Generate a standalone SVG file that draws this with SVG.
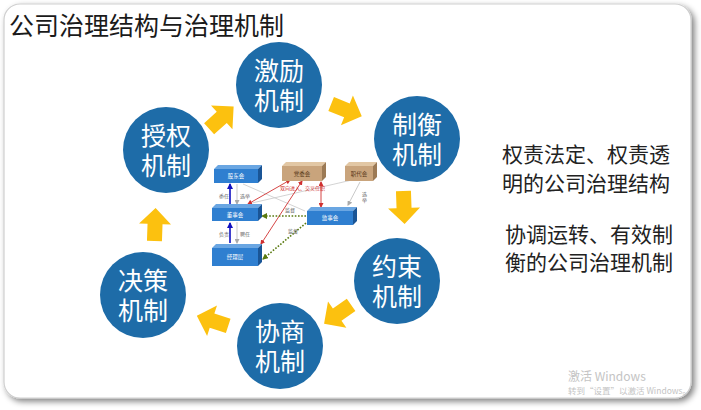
<svg xmlns="http://www.w3.org/2000/svg" width="701" height="410" viewBox="0 0 701 410">
<defs>
<style>
.cjk{font-family:"Noto Sans CJK SC","Noto Sans",sans-serif}
.ct{font-size:25px;fill:#fff;text-anchor:middle}
.circ{fill:#1e6ca8}
.rt{font-size:21px;fill:#222}
.tiny{font-size:5px;fill:#666}
.bx{font-size:5.5px;fill:#fff;text-anchor:middle}
.bxt{font-size:5.5px;fill:#5a3a1a;text-anchor:middle}
.yarr{fill:#fcc10f}
</style>
<filter id="sh" x="-5%" y="-5%" width="110%" height="110%">
<feGaussianBlur in="SourceAlpha" stdDeviation="3"/>
<feOffset dx="3" dy="3"/>
<feComponentTransfer><feFuncA type="linear" slope="0.5"/></feComponentTransfer>
<feMerge><feMergeNode/><feMergeNode in="SourceGraphic"/></feMerge>
</filter>
<path id="ya" d="M-16,-7.5 L1,-7.5 L1,-16 L17,0 L1,16 L1,7.5 L-16,7.5 Z"/>
<marker id="mb" markerWidth="6" markerHeight="6" refX="5" refY="3" orient="auto" markerUnits="userSpaceOnUse"><path d="M0,0 L6,3 L0,6 Z" fill="#1010c0"/></marker>
<marker id="mr" markerWidth="5" markerHeight="5" refX="4" refY="2.5" orient="auto" markerUnits="userSpaceOnUse"><path d="M0,0 L5,2.5 L0,5 Z" fill="#d03030"/></marker>
<marker id="mrs" markerWidth="5" markerHeight="5" refX="1" refY="2.5" orient="auto" markerUnits="userSpaceOnUse"><path d="M5,0 L0,2.5 L5,5 Z" fill="#d03030"/></marker>
<marker id="mg" markerWidth="5" markerHeight="5" refX="4" refY="2.5" orient="auto" markerUnits="userSpaceOnUse"><path d="M0,0 L5,2.5 L0,5 Z" fill="#aaa"/></marker>
<marker id="mgr" markerWidth="6" markerHeight="6" refX="5" refY="3" orient="auto" markerUnits="userSpaceOnUse"><path d="M0,0 L6,3 L0,6 Z" fill="#5a7a10"/></marker>
</defs>

<rect x="0" y="0" width="701" height="410" fill="#fff"/>
<g id="frame">
<rect x="4" y="4" width="687" height="394" rx="16" ry="16" fill="#fff" stroke="#cfcfcf" stroke-width="1.2" filter="url(#sh)"/>
</g>

<g id="title"><text class="cjk" x="9" y="35" font-size="25" fill="#1a1a1a">公司治理结构与治理机制</text></g>

<g id="connectors">
<use href="#ya" class="yarr" transform="translate(221,118) rotate(-42)"/>
<use href="#ya" class="yarr" transform="translate(346,110) rotate(22)"/>
<use href="#ya" class="yarr" transform="translate(404,207) rotate(88)"/>
<use href="#ya" class="yarr" transform="translate(338,314) rotate(145)"/>
<use href="#ya" class="yarr" transform="translate(213,321) rotate(198)"/>
<use href="#ya" class="yarr" transform="translate(155,225) rotate(-88)"/>
</g>

<g id="n-jili"><circle class="circ" cx="279" cy="85" r="43"/><text class="cjk ct" x="279" y="80">激励<tspan x="279" dy="30">机制</tspan></text></g>
<g id="n-zhiheng"><circle class="circ" cx="417" cy="139" r="43"/><text class="cjk ct" x="417" y="134">制衡<tspan x="417" dy="30">机制</tspan></text></g>
<g id="n-shouquan"><circle class="circ" cx="166" cy="150" r="43"/><text class="cjk ct" x="166" y="145">授权<tspan x="166" dy="30">机制</tspan></text></g>
<g id="n-yueshu"><circle class="circ" cx="397" cy="281" r="43"/><text class="cjk ct" x="397" y="276">约束<tspan x="397" dy="30">机制</tspan></text></g>
<g id="n-juece"><circle class="circ" cx="143" cy="295" r="43"/><text class="cjk ct" x="143" y="290">决策<tspan x="143" dy="30">机制</tspan></text></g>
<g id="n-xieshang"><circle class="circ" cx="280" cy="346" r="43"/><text class="cjk ct" x="280" y="341">协商<tspan x="280" dy="30">机制</tspan></text></g>

<g id="structure">
<g id="s-lines" fill="none">
<line x1="230" y1="243" x2="230" y2="223" stroke="#1010c0" stroke-width="1.6" marker-end="url(#mb)"/>
<line x1="230" y1="205" x2="230" y2="184" stroke="#1010c0" stroke-width="1.6" marker-end="url(#mb)"/>
<line x1="237" y1="184" x2="237" y2="204" stroke="#bbb" stroke-width="0.8" marker-end="url(#mg)"/>
<line x1="237" y1="222" x2="237" y2="243" stroke="#bbb" stroke-width="0.8" marker-end="url(#mg)"/>
<line x1="243" y1="184" x2="305" y2="211" stroke="#c8c8c8" stroke-width="0.8"/>
<line x1="352" y1="180" x2="252" y2="203" stroke="#c8c8c8" stroke-width="0.8"/>
<line x1="360" y1="182" x2="348" y2="205" stroke="#bbb" stroke-width="0.8" marker-end="url(#mg)"/>
<line x1="290" y1="180" x2="248" y2="204" stroke="#d03030" stroke-width="0.9" marker-end="url(#mr)" marker-start="url(#mrs)"/>
<line x1="302" y1="181" x2="261" y2="244" stroke="#d03030" stroke-width="0.9" marker-end="url(#mr)" marker-start="url(#mrs)"/>
<line x1="321" y1="182" x2="321" y2="207" stroke="#d03030" stroke-width="0.9" marker-end="url(#mr)" marker-start="url(#mrs)"/>
<line x1="306" y1="216" x2="262" y2="216" stroke="#5a7a10" stroke-width="1.6" stroke-dasharray="1.6 1.6" marker-end="url(#mgr)"/>
<line x1="306" y1="223" x2="263" y2="259" stroke="#5a7a10" stroke-width="1.6" stroke-dasharray="1.6 1.6" marker-end="url(#mgr)"/>
</g>
<g id="s-labels" class="cjk">
<text class="tiny" x="219" y="198">委任</text>
<text class="tiny" x="240" y="198">选举</text>
<text class="tiny" x="219" y="236">负责</text>
<text class="tiny" x="240" y="236">聘任</text>
<text class="tiny" x="280" y="190" style="fill:#d03030">双向进入、交叉任职</text>
<text class="tiny" x="285" y="212">监督</text>
<text class="tiny" x="288" y="233">监督</text>
<text class="tiny" x="362" y="196">选<tspan x="362" dy="6">举</tspan></text>
</g>
<g id="s-gudonghui">
<path d="M214,169 L218,165 L262,165 L258,169 Z" fill="#6aa6e2"/>
<path d="M258,169 L262,165 L262,179 L258,183 Z" fill="#1a5596"/>
<rect x="214" y="169" width="44" height="14" fill="#2f7fd0"/>
<text class="cjk bx" x="236" y="178">股东会</text>
</g>
<g id="s-dangweihui">
<path d="M282,166 L286,162 L326,162 L322,166 Z" fill="#e2c7a4"/>
<path d="M322,166 L326,162 L326,177 L322,181 Z" fill="#9c7a55"/>
<rect x="282" y="166" width="40" height="15" fill="#c9a47c"/>
<text class="cjk bxt" x="302" y="176">党委会</text>
</g>
<g id="s-zhidaihui">
<path d="M345,166 L349,162 L377,162 L373,166 Z" fill="#e2c7a4"/>
<path d="M373,166 L377,162 L377,177 L373,181 Z" fill="#9c7a55"/>
<rect x="345" y="166" width="28" height="15" fill="#c9a47c"/>
<text class="cjk bxt" x="359" y="176">职代会</text>
</g>
<g id="s-dongshihui">
<path d="M212,208 L216,204 L262,204 L258,208 Z" fill="#6aa6e2"/>
<path d="M258,208 L262,204 L262,217 L258,221 Z" fill="#1a5596"/>
<rect x="212" y="208" width="46" height="13" fill="#2f7fd0"/>
<text class="cjk bx" x="235" y="217">董事会</text>
</g>
<g id="s-jianshihui">
<path d="M307,211 L311,207 L357,207 L353,211 Z" fill="#6aa6e2"/>
<path d="M353,211 L357,207 L357,221 L353,225 Z" fill="#1a5596"/>
<rect x="307" y="211" width="46" height="14" fill="#2f7fd0"/>
<text class="cjk bx" x="330" y="220">监事会</text>
</g>
<g id="s-jinglichen">
<path d="M212,248 L216,244 L262,244 L258,248 Z" fill="#6aa6e2"/>
<path d="M258,248 L262,244 L262,262 L258,266 Z" fill="#1a5596"/>
<rect x="212" y="248" width="46" height="18" fill="#2f7fd0"/>
<text class="cjk bx" x="235" y="259">经理层</text>
</g>
</g>

<g id="righttext" class="cjk">
<text class="rt" x="502" y="162">权责法定、权责透<tspan x="502" dy="29">明的公司治理结构</tspan></text>
<text class="rt" x="505" y="242">协调运转、有效制<tspan x="505" dy="28">衡的公司治理机制</tspan></text>
</g>

<g id="watermark" class="cjk" fill="#c4c4c4">
<text x="568" y="381" font-size="12">激活 Windows</text>
<text x="568" y="394" font-size="8.5">转到“设置”以激活 Windows。</text>
</g>
</svg>
